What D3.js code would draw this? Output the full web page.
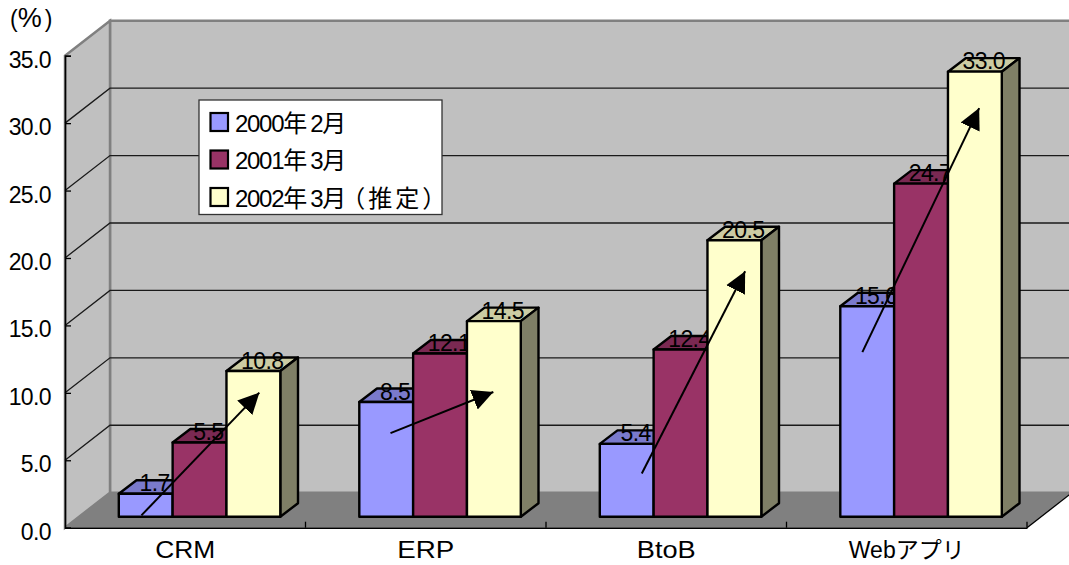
<!DOCTYPE html>
<html>
<head>
<meta charset="utf-8">
<script src="https://cdnjs.cloudflare.com/ajax/libs/d3/7.8.5/d3.min.js"></script>
<style>
html,body{margin:0;padding:0;background:#fff;overflow:hidden}
svg{display:block}
text{font-family:"Liberation Sans","Noto Sans CJK JP",sans-serif;fill:#000}
</style>
</head>
<body>
<svg id="chart" width="1069" height="565"></svg>
<script>
// Chart data
const categories = ["CRM", "ERP", "BtoB", "Webアプリ"];
const seriesNames = ["2000年2月", "2001年3月", "2002年3月（推定）"];
const values2000 = [1.7, 8.5, 5.4, 15.6];
const values2001 = [5.5, 12.1, 12.4, 24.7];
const values2002 = [10.8, 14.5, 20.5, 33.0];
const yTicks = [0, 5, 10, 15, 20, 25, 30, 35];

// Trend arrows: position along the bar group (in bar widths) and value on the axis
const arrowStartSlot = [0.42, 0.58, 0.78, 0.41];
const arrowStartValue = [0.1, 6.2, 3.2, 12.2];
const arrowEndSlot = [2.61, 2.49, 2.70, 2.58];
const arrowEndValue = [9.2, 9.25, 18.2, 30.3];

const frontColors = ["#9999ff", "#993366", "#ffffcc"];
const topColors = ["#7a7acc", "#7a2952", "#cccca3"];
const sideColors = ["#666699", "#66223f", "#7f7f66"];

// Oblique projection of the chart box
const plot = {left: 65, right: 1027, top: 55.7, bottom: 527.7, depthX: 45, depthY: -35};
const barDepth = {x: 17.7, y: -13.5, offsetX: 14.3, offsetY: -11};
const groupWidth = 161.5;
const categoryLabelLength = {"CRM": 60, "ERP": 57, "BtoB": 59};

const svg = d3.select("#chart");
const y = d3.scaleLinear().domain([0, 35]).range([plot.bottom, plot.top]);
const x = d3.scaleBand().domain(categories).range([plot.left, plot.right]);
const xSeries = d3.scaleBand().domain(d3.range(seriesNames.length)).range([0, groupWidth]);

const poly = pts => pts.map(p => p.join(",")).join(" ");
const yMax = y.domain()[1];
const dx = plot.depthX, dy = plot.depthY;

// Back wall and side wall
const walls = svg.append("g");
walls.append("polygon")
  .attr("points", poly([[plot.left + dx, y(yMax) + dy], [1071, y(yMax) + dy], [1071, y(0) + dy], [plot.left + dx, y(0) + dy]]))
  .attr("fill", "#c0c0c0").attr("stroke", "#808080").attr("stroke-width", 2.5);
walls.append("polygon")
  .attr("points", poly([[plot.left, y(yMax)], [plot.left + dx, y(yMax) + dy], [plot.left + dx, y(0) + dy], [plot.left, y(0)]]))
  .attr("fill", "#c0c0c0").attr("stroke", "#808080").attr("stroke-width", 2.5);

// Floor
walls.append("polygon")
  .attr("points", poly([[plot.left, y(0)], [plot.left + dx, y(0) + dy], [plot.right + dx, y(0) + dy], [plot.right, y(0)]]))
  .attr("fill", "#808080");
walls.append("line")
  .attr("x1", plot.right).attr("y1", y(0))
  .attr("x2", plot.right + dx).attr("y2", y(0) + dy)
  .attr("stroke", "#000").attr("stroke-width", 1.3);

// Gridlines across both walls
const grid = svg.append("g").attr("fill", "none").attr("stroke", "#1a1a1a").attr("stroke-width", 1.3);
grid.selectAll("path").data(yTicks.slice(1, -1)).join("path")
  .attr("d", v => `M${plot.left},${y(v)}L${plot.left + dx},${y(v) + dy}L1071,${y(v) + dy}`);

// Value axis
const axisY = svg.append("g").attr("transform", `translate(${plot.left},0)`)
  .call(d3.axisLeft(y).tickValues(yTicks).tickFormat(d3.format(".1f")).tickSize(-6).tickPadding(14));
axisY.select(".domain").attr("stroke", "#000").attr("stroke-width", 1.6);
axisY.selectAll(".tick line").attr("stroke", "#000").attr("stroke-width", 1.3);
axisY.selectAll("text").attr("font-size", 23).attr("letter-spacing", -0.6).attr("dy", "0.5em");
axisY.attr("font-family", null);

// Category axis
const axisX = svg.append("g").attr("transform", `translate(0,${plot.bottom})`)
  .call(d3.axisBottom(x).tickSize(0).tickPadding(14));
axisX.select(".domain").attr("stroke", "#000").attr("stroke-width", 1.6);
axisX.selectAll("text").attr("font-size", 23)
  .filter(d => categoryLabelLength[d])
  .attr("textLength", d => categoryLabelLength[d])
  .attr("lengthAdjust", "spacingAndGlyphs");
axisX.attr("font-family", null);
axisX.selectAll("line.sep").data(categories.slice(1)).join("line").attr("class", "sep")
  .attr("x1", d => x(d)).attr("x2", d => x(d)).attr("y1", -6).attr("y2", 0)
  .attr("stroke", "#000").attr("stroke-width", 1.3);
axisX.append("line").attr("x1", plot.right).attr("x2", plot.right).attr("y1", -6).attr("y2", 0)
  .attr("stroke", "#000").attr("stroke-width", 1.3);

// Unit label
const unit = svg.append("text").attr("x", 10).attr("y", 27).attr("font-size", 23);
unit.append("tspan").text("(");
unit.append("tspan").attr("font-size", 27).text("%");
unit.append("tspan").attr("dx", 3).text(")");

// Bars, group by group; each bar overlaps the label of the bar before it
const allValues = [values2000, values2001, values2002];
const bars = svg.append("g");
categories.forEach((cat, c) => {
  const x0 = x(cat) + barDepth.offsetX + (x.bandwidth() - groupWidth) / 2;
  seriesNames.forEach((_, s) => {
    const v = allValues[s][c];
    const l = x0 + xSeries(s), r = l + xSeries.bandwidth();
    const t = y(v) + barDepth.offsetY, b = y(0) + barDepth.offsetY;
    const g = bars.append("g").attr("stroke", "#000").attr("stroke-width", 2.4).attr("stroke-linejoin", "round");
    g.append("polygon").attr("fill", topColors[s])
      .attr("points", poly([[l, t], [l + barDepth.x, t + barDepth.y], [r + barDepth.x, t + barDepth.y], [r, t]]));
    g.append("polygon").attr("fill", sideColors[s])
      .attr("points", poly([[r, t], [r + barDepth.x, t + barDepth.y], [r + barDepth.x, b + barDepth.y], [r, b]]));
    g.append("rect").attr("x", l).attr("y", t).attr("width", r - l).attr("height", b - t).attr("fill", frontColors[s]);
    bars.append("text")
      .attr("x", (l + r) / 2 + barDepth.x / 2).attr("y", t - 2.5)
      .attr("text-anchor", "middle").attr("font-size", 23).attr("letter-spacing", -0.6)
      .text(d3.format(".1f")(v));
  });
});

// Legend
const legend = svg.append("g");
legend.append("rect").attr("x", 199).attr("y", 100).attr("width", 243).attr("height", 114.5)
  .attr("fill", "#fff").attr("stroke", "#333").attr("stroke-width", 1.3);
const legendY = d3.scalePoint().domain(seriesNames).range([122, 197]);
const rows = legend.selectAll("g").data(seriesNames).join("g")
  .attr("transform", d => `translate(0,${legendY(d)})`);
rows.append("rect").attr("x", 210.5).attr("y", -9).attr("width", 17.5).attr("height", 18)
  .attr("fill", (d, i) => frontColors[i]).attr("stroke", "#000").attr("stroke-width", 2.2);
// Digits sit tight, the kanji get more air, and the opening bracket is pulled in
const labels = rows.append("text").attr("x", 235).attr("y", 9.5).attr("font-size", 24);
labels.selectAll("tspan").data(d => d.match(/[0-9]+|[^0-9（]+|（.*/g)).join("tspan")
  .attr("letter-spacing", t => /[0-9]/.test(t) ? -1.3 : 3)
  .attr("dx", t => t[0] === "（" ? -8 : 0)
  .text(t => t);

// Trend arrows
const defs = svg.append("defs");
defs.append("marker").attr("id", "head").attr("viewBox", "0 0 10 10")
  .attr("refX", 10).attr("refY", 5).attr("markerUnits", "userSpaceOnUse")
  .attr("markerWidth", 21).attr("markerHeight", 22).attr("orient", "auto")
  .append("path").attr("d", "M0,0L10,5L0,10Z").attr("fill", "#000");
const slotX = (c, slot) => x(categories[c]) + barDepth.offsetX + (x.bandwidth() - groupWidth) / 2 + slot * xSeries.bandwidth();
svg.append("g").selectAll("line").data(categories).join("line")
  .attr("x1", (d, c) => slotX(c, arrowStartSlot[c]))
  .attr("y1", (d, c) => y(arrowStartValue[c]) + barDepth.offsetY)
  .attr("x2", (d, c) => slotX(c, arrowEndSlot[c]))
  .attr("y2", (d, c) => y(arrowEndValue[c]) + barDepth.offsetY)
  .attr("stroke", "#000").attr("stroke-width", 2).attr("marker-end", "url(#head)");
</script>
</body>
</html>
